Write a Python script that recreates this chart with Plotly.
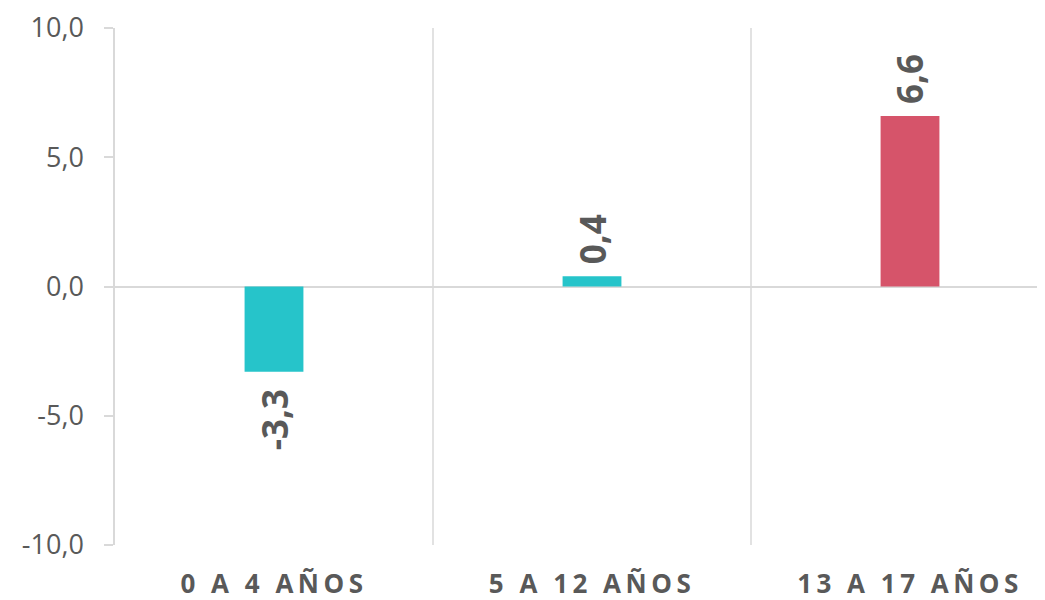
import plotly.graph_objects as go

categories = ["0 A 4 AÑOS", "5 A 12 AÑOS", "13 A 17 AÑOS"]
values = [-3.3, 0.4, 6.6]
colors = ["#26C4CA", "#26C4CA", "#D6546A"]
labels = ["-3,3", "0,4", "6,6"]
y_ticks = [-10, -5, 0, 5, 10]
y_ticktext = ["-10,0", "-5,0", "0,0", "5,0", "10,0"]

W, H = 1045, 600
ml, mr, mt, mb = 107, 0, 17, 63
cat_px = 318.0
plot_w = W - ml - mr
x_max = -0.5 + plot_w / cat_px

xs = list(range(len(categories)))

fig = go.Figure(go.Bar(
    x=xs, y=values,
    marker=dict(color=colors, line=dict(width=0)),
    width=0.185,
    cliponaxis=False,
))

annotations = []
for x, v, t in zip(xs, values, labels):
    annotations.append(dict(
        x=x, y=v, xref="x", yref="y", text=t, showarrow=False, textangle=-90,
        yanchor="bottom" if v >= 0 else "top",
        yshift=10 if v >= 0 else -16,
        font=dict(family="Open Sans", size=35, color="#595959", weight="bold"),
    ))

shapes = []
for i in range(len(categories) - 1):
    shapes.append(dict(type="line", xref="x", yref="y", x0=i + 0.5, x1=i + 0.5,
                       y0=-10, y1=10, line=dict(color="#D9D9D9", width=1.5), layer="below"))

fig.update_layout(
    width=W, height=H,
    margin=dict(l=ml, r=mr, t=mt, b=mb),
    paper_bgcolor="white", plot_bgcolor="white",
    showlegend=False,
    shapes=shapes,
    annotations=annotations,
    xaxis=dict(
        range=[-0.5, x_max],
        tickmode="array", tickvals=xs,
        ticktext=['<span style="letter-spacing:4.5px">%s</span>' % c for c in categories],
        showgrid=False, zeroline=False, showline=False, ticks="",
        tickfont=dict(family="Open Sans", size=26, color="#595959", weight="bold"),
        ticklabelstandoff=21,
        ticklabeloverflow="allow",
    ),
    yaxis=dict(
        range=[-10, 10], tickmode="array", tickvals=y_ticks, ticktext=y_ticktext,
        showgrid=False, zeroline=True, zerolinecolor="#D9D9D9", zerolinewidth=2,
        showline=True, linecolor="#D9D9D9", linewidth=1.5,
        ticks="outside", ticklen=9, tickcolor="#D9D9D9", tickwidth=1.5,
        tickfont=dict(family="Open Sans", size=27, color="#595959"),
        ticklabelstandoff=15,
        ticklabeloverflow="allow",
    ),
)

fig.write_html("out.html")
